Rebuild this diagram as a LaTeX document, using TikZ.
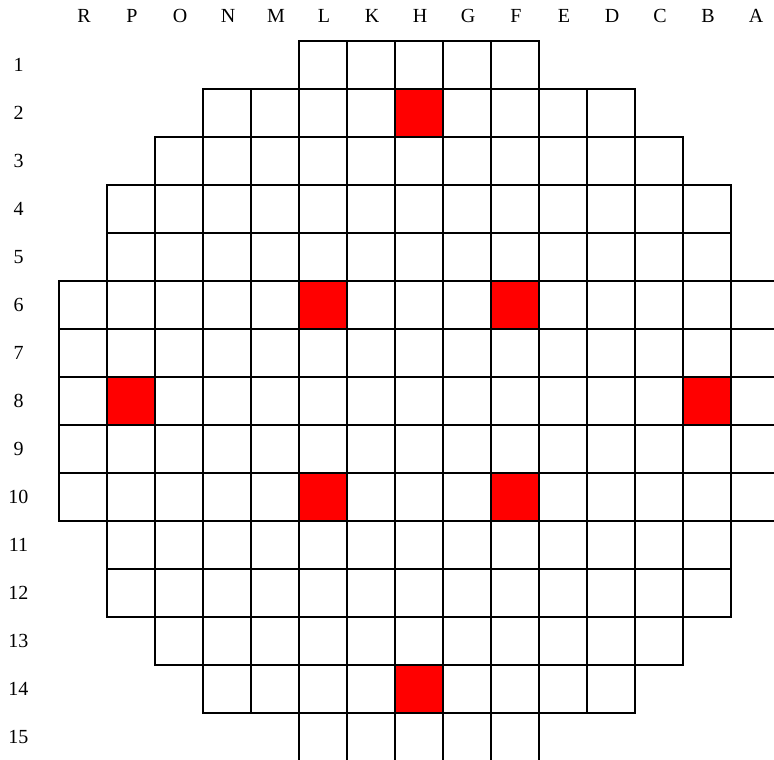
\documentclass[tikz,border=0pt]{standalone}
\usepackage{fontspec}
\setmainfont{Liberation Serif}
\begin{document}
\begin{tikzpicture}[x=1pt,y=-1pt,
  cellbox/.style={draw=black, line width=1.2pt},
  hotcell/.style={fill=red},
  lab/.style={font=\fontsize{20}{22}\selectfont, inner sep=0pt, anchor=base}]
\useasboundingbox (0,0) rectangle (774,760);
\begin{scope}
\clip (0,0) rectangle (774,760);
% red cells (column index, row)
\foreach \c/\r in {7/2, 5/6, 9/6, 1/8, 13/8, 5/10, 9/10, 7/14}
  \fill[hotcell] ({59+48*\c},{41+48*(\r-1)}) rectangle +(48,48);
% grid
\foreach \r/\s/\e in {1/5/9, 2/3/11, 3/2/12, 4/1/13, 5/1/13, 6/0/14, 7/0/14, 8/0/14,
                      9/0/14, 10/0/14, 11/1/13, 12/1/13, 13/2/12, 14/3/11, 15/5/9}
  \foreach \c in {\s,...,\e}
    \draw[cellbox] ({59+48*\c},{41+48*(\r-1)}) rectangle +(48,48);
\end{scope}
% column labels
\foreach \l [count=\i from 0] in {R,P,O,N,M,L,K,H,G,F,E,D,C,B,A}
  \node[lab] (col-\l) at ({84+48*\i},22.7) {\l};
% row labels
\foreach \r in {1,...,15}
  \node[lab] (row-\r) at (18.5,{71+48*(\r-1)}) {\r};
\end{tikzpicture}
\end{document}
